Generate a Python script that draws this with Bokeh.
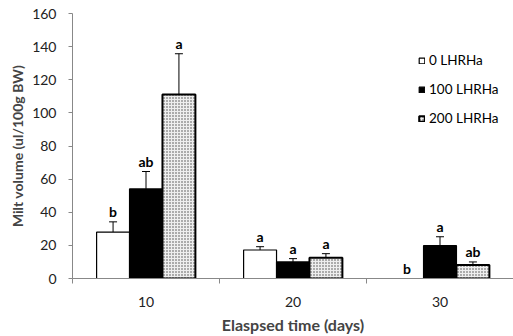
from bokeh.plotting import figure
from bokeh.models import ColumnDataSource, Whisker, TeeHead, FixedTicker, Legend, LegendItem
from bokeh.core.properties import value
from bokeh.embed import file_html
from bokeh.resources import INLINE

categories = ["10", "20", "30"]
series = ["0 LHRHa", "100 LHRHa", "200 LHRHa"]
means_0 = [28.0, 17.2, 0.0]
means_100 = [54.1, 10.0, 19.8]
means_200 = [111.1, 12.6, 8.2]
err_0 = [6.2, 2.0, 0.0]
err_100 = [10.5, 2.0, 5.4]
err_200 = [24.6, 2.4, 1.8]
letters_0 = ["b", "a", "b"]
letters_100 = ["ab", "a", "a"]
letters_200 = ["a", "a", "ab"]

FONT = "Lato"

p = figure(width=513, height=336, output_backend="svg", toolbar_location=None,
           x_range=(0, 3), y_range=(0, 160),
           min_border_left=72, min_border_right=0, min_border_top=13, min_border_bottom=57)
p.outline_line_color = None
p.xgrid.grid_line_color = None
p.ygrid.grid_line_color = None

bw = 0.224
offsets = [-bw, 0.0, bw]
styles = [
    dict(fill_color="white", line_color="black", line_width=1.2),
    dict(fill_color="black", line_color="black", line_width=1.2),
    dict(fill_color="#eeeeee", line_color="black", line_width=2,
         hatch_pattern="dot", hatch_color="#444444", hatch_scale=3, hatch_weight=1),
]
all_means = [means_0, means_100, means_200]
all_errs = [err_0, err_100, err_200]
all_letters = [letters_0, letters_100, letters_200]

items = []
for i in range(3):
    xs = [k + 0.5 + offsets[i] for k in range(len(categories))]
    src = ColumnDataSource(dict(
        x=xs, top=all_means[i],
        upper=[m + e for m, e in zip(all_means[i], all_errs[i])],
        lab=all_letters[i]))
    r = p.vbar(x="x", top="top", width=bw, bottom=0, source=src, **styles[i])
    items.append(LegendItem(label=series[i], renderers=[r]))
    w = Whisker(base="x", upper="upper", lower="top", source=src, dimension="height",
                line_color="black", line_width=1,
                upper_head=TeeHead(size=8, line_color="black", line_width=1), lower_head=None)
    p.add_layout(w)
    p.text(x="x", y="upper", text="lab", source=src, text_align="center",
           text_baseline="middle", y_offset=-10, text_font=value(FONT),
           text_font_style="bold", text_font_size="14px", text_color="black")

legend = Legend(items=items, location=(346, 152), padding=0, margin=0, spacing=13,
                glyph_width=7, glyph_height=7, label_height=7, label_standoff=4,
                label_text_font=FONT, label_text_font_size="13.5px",
                label_text_color="black", border_line_color=None,
                background_fill_alpha=0)
p.add_layout(legend)

# y axis
ya = p.yaxis[0]
ya.ticker = FixedTicker(ticks=[0, 20, 40, 60, 80, 100, 120, 140, 160])
ya.axis_label = "Milt volume (ul/100g BW)"
ya.axis_label_text_font = FONT
ya.axis_label_text_font_style = "bold"
ya.axis_label_text_font_size = "14px"
ya.axis_label_standoff = 3
ya.major_label_text_font = FONT
ya.major_label_text_font_size = "14px"
ya.major_label_text_color = "#222222"
ya.major_label_standoff = 12
ya.axis_line_color = "#888888"
ya.major_tick_line_color = "#888888"
ya.major_tick_out = 4
ya.major_tick_in = 0
ya.minor_tick_line_color = None

# x axis
xa = p.xaxis[0]
xa.ticker = FixedTicker(ticks=[0.5, 1.5, 2.5], minor_ticks=[0, 1, 2, 3])
xa.major_label_overrides = {0.5: categories[0], 1.5: categories[1], 2.5: categories[2]}
xa.axis_label = "Elaspsed time (days)"
xa.axis_label_text_font = FONT
xa.axis_label_text_font_style = "bold"
xa.axis_label_text_font_size = "16px"
xa.axis_label_standoff = 5
xa.major_label_text_font = FONT
xa.major_label_text_font_size = "14px"
xa.major_label_text_color = "#222222"
xa.major_label_standoff = 13
xa.axis_line_color = "#888888"
xa.major_tick_line_color = None
xa.major_tick_out = 0
xa.major_tick_in = 0
xa.minor_tick_line_color = "#888888"
xa.minor_tick_out = 5
xa.minor_tick_in = 0

open("out.html", "w").write(file_html(p, INLINE))
